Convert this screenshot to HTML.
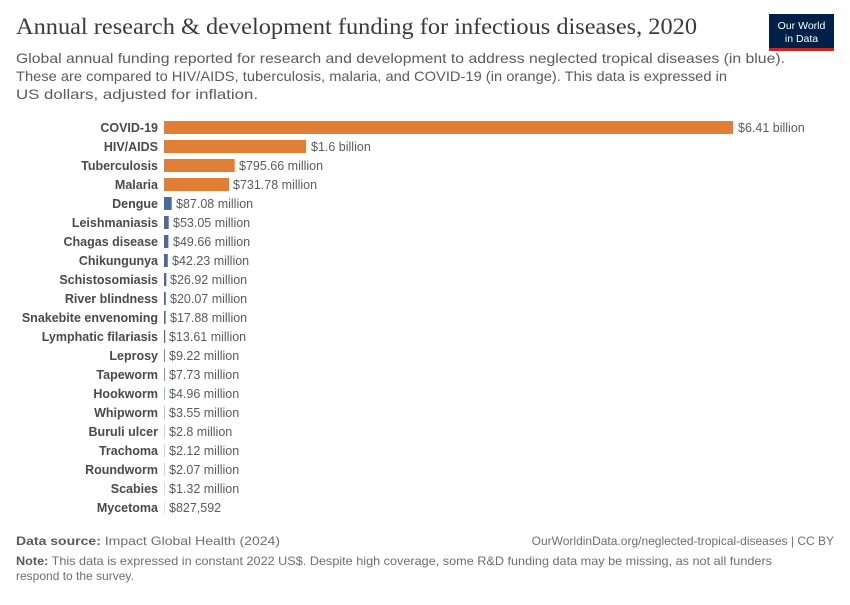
<!DOCTYPE html>
<html><head><meta charset="utf-8"><style>
body{margin:0;background:#fff;width:850px;height:600px;overflow:hidden;font-family:"Liberation Sans",sans-serif}
</style></head><body>
<svg width="850" height="600" xmlns="http://www.w3.org/2000/svg" font-family="Liberation Sans, sans-serif">
<text x="16" y="34" font-family="Liberation Serif, serif" font-size="23" fill="#3a3a3a" textLength="681" lengthAdjust="spacingAndGlyphs">Annual research &amp; development funding for infectious diseases, 2020</text>
<rect x="769" y="14" width="65" height="36" fill="#002147"/>
<rect x="769" y="48" width="65" height="3" fill="#ce261e"/>
<text x="801.5" y="29" text-anchor="middle" font-size="10.5" fill="#fff">Our World</text>
<text x="801.5" y="42" text-anchor="middle" font-size="10.5" fill="#fff">in Data</text>
<g font-size="14" fill="#5b5b5b">
<text x="16" y="63" textLength="769" lengthAdjust="spacingAndGlyphs">Global annual funding reported for research and development to address neglected tropical diseases (in blue).</text>
<text x="16" y="81" textLength="711" lengthAdjust="spacingAndGlyphs">These are compared to HIV/AIDS, tuberculosis, malaria, and COVID-19 (in orange). This data is expressed in</text>
<text x="16" y="99" textLength="242" lengthAdjust="spacingAndGlyphs">US dollars, adjusted for inflation.</text>
</g>
<g font-size="12.5">
<g font-weight="bold" fill="#4a4a4a" text-anchor="end">
<text x="158" y="132">COVID-19</text><text x="158" y="151">HIV/AIDS</text><text x="158" y="170">Tuberculosis</text><text x="158" y="189">Malaria</text><text x="158" y="208">Dengue</text><text x="158" y="227">Leishmaniasis</text><text x="158" y="246">Chagas disease</text><text x="158" y="265">Chikungunya</text><text x="158" y="284">Schistosomiasis</text><text x="158" y="303">River blindness</text><text x="158" y="322">Snakebite envenoming</text><text x="158" y="341">Lymphatic filariasis</text><text x="158" y="360">Leprosy</text><text x="158" y="379">Tapeworm</text><text x="158" y="398">Hookworm</text><text x="158" y="417">Whipworm</text><text x="158" y="436">Buruli ulcer</text><text x="158" y="455">Trachoma</text><text x="158" y="474">Roundworm</text><text x="158" y="493">Scabies</text><text x="158" y="512">Mycetoma</text>
</g>
<g fill="#e07f35">
<rect x="164" y="121" width="569" height="13"/><rect x="164" y="140" width="142" height="13"/><rect x="164" y="159" width="70.7" height="13"/><rect x="164" y="178" width="65" height="13"/>
</g>
<g fill="#4c6a9c">
<rect x="164" y="197" width="7.7" height="13"/><rect x="164" y="216" width="4.7" height="13"/><rect x="164" y="235" width="4.4" height="13"/><rect x="164" y="254" width="3.8" height="13"/><rect x="164" y="273" width="2.4" height="13"/><rect x="164" y="292" width="1.8" height="13"/><rect x="164" y="311" width="1.6" height="13"/><rect x="164" y="330" width="1.2" height="13"/><rect x="164" y="349" width="0.8" height="13"/><rect x="164" y="368" width="0.7" height="13"/><rect x="164" y="387" width="0.5" height="13"/><rect x="164" y="406" width="0.4" height="13"/><rect x="164" y="425" width="0.3" height="13"/><rect x="164" y="444" width="0.3" height="13"/><rect x="164" y="463" width="0.3" height="13"/><rect x="164" y="482" width="0.2" height="13"/><rect x="164" y="501" width="0.2" height="13"/>
</g>
<g fill="#5b5b5b">
<text x="738" y="132">$6.41 billion</text><text x="311" y="151">$1.6 billion</text><text x="239" y="170">$795.66 million</text><text x="233" y="189">$731.78 million</text><text x="176" y="208">$87.08 million</text><text x="173" y="227">$53.05 million</text><text x="173" y="246">$49.66 million</text><text x="172" y="265">$42.23 million</text><text x="170" y="284">$26.92 million</text><text x="170" y="303">$20.07 million</text><text x="170" y="322">$17.88 million</text><text x="169" y="341">$13.61 million</text><text x="169" y="360">$9.22 million</text><text x="169" y="379">$7.73 million</text><text x="169" y="398">$4.96 million</text><text x="169" y="417">$3.55 million</text><text x="169" y="436">$2.8 million</text><text x="169" y="455">$2.12 million</text><text x="169" y="474">$2.07 million</text><text x="169" y="493">$1.32 million</text><text x="169" y="512">$827,592</text>
</g>
</g>
<g font-size="12" fill="#6e6e6e">
<text x="16" y="545" textLength="264" lengthAdjust="spacingAndGlyphs"><tspan font-weight="bold" fill="#5b5b5b">Data source:</tspan> Impact Global Health (2024)</text>
<text x="834" y="545" text-anchor="end">OurWorldinData.org/neglected-tropical-diseases | CC BY</text>
<text x="16" y="565" textLength="756" lengthAdjust="spacingAndGlyphs"><tspan font-weight="bold" fill="#5b5b5b">Note:</tspan> This data is expressed in constant 2022 US$. Despite high coverage, some R&amp;D funding data may be missing, as not all funders</text>
<text x="16" y="580">respond to the survey.</text>
</g>
</svg>
</body></html>
